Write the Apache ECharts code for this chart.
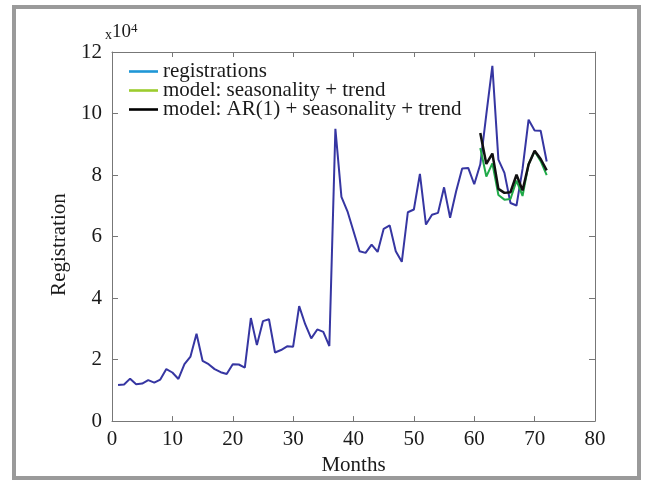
<!DOCTYPE html>
<html>
<head>
<meta charset="utf-8">
<script src="https://cdn.jsdelivr.net/npm/echarts@6/dist/echarts.min.js"></script>
<style>
  html, body { margin: 0; padding: 0; background: #fff; }
  #chart { width: 646px; height: 481px; }
</style>
</head>
<body>
<div id="chart"></div>
<script>
// Monthly registrations, months 1..72
const months = [
  1, 2, 3, 4, 5, 6, 7, 8, 9, 10, 11, 12,
  13, 14, 15, 16, 17, 18, 19, 20, 21, 22, 23, 24,
  25, 26, 27, 28, 29, 30, 31, 32, 33, 34, 35, 36,
  37, 38, 39, 40, 41, 42, 43, 44, 45, 46, 47, 48,
  49, 50, 51, 52, 53, 54, 55, 56, 57, 58, 59, 60,
  61, 62, 63, 64, 65, 66, 67, 68, 69, 70, 71, 72
];
const registrations = [
  11700, 11900, 13800, 12000, 12200, 13300, 12500, 13500, 16900, 15800, 13700, 18500,
  21000, 28400, 19600, 18500, 16900, 15900, 15300, 18500, 18400, 17400, 33500, 24700,
  32500, 33100, 22300, 23100, 24300, 24200, 37400, 31500, 26900, 29800, 29000, 24400,
  95000, 72900, 68200, 61700, 55200, 54700, 57400, 55000, 62500, 63600, 55200, 51800,
  67900, 68800, 80400, 63900, 67100, 67700, 76000, 66100, 74700, 82100, 82300, 77000,
  83500, 99700, 115500, 85000, 80700, 70900, 70100, 82000, 98000, 94500, 94400, 84400
];

// Model fits over the last year (months 61..72)
const modelMonths = [61, 62, 63, 64, 65, 66, 67, 68, 69, 70, 71, 72];
const seasonTrend = [88800, 79500, 83800, 73500, 72000, 72200, 78200, 73200, 83600, 87700, 84500, 80000];
const arSeasonTrend = [93700, 83600, 87000, 75500, 74200, 74400, 80100, 75000, 83400, 87900, 85200, 81500];

const xTicks = [0, 10, 20, 30, 40, 50, 60, 70, 80];
const yTicks = [0, 2, 4, 6, 8, 10, 12];   // in units of 10^4

const seriesNames = [
  'registrations',
  'model: seasonality + trend',
  'model: AR(1) + seasonality + trend'
];

const pairs = (xs, ys) => xs.map((x, i) => [x, ys[i]]);

const FONT = "'Liberation Serif', 'DejaVu Serif', serif";
const FONT_SIZE = 21;
const AXIS_COLOR = '#777';
const TEXT_COLOR = '#1a1a1a';

const chart = echarts.init(document.getElementById('chart'), null, { renderer: 'canvas' });

// Axes that only close the box: line and inward ticks, no labels
const boxAxis = (tickLen) => ({
  axisLine: { show: true, onZero: false, lineStyle: { color: AXIS_COLOR, width: 1 } },
  axisTick: { show: true, inside: true, length: tickLen, lineStyle: { color: AXIS_COLOR } },
  axisLabel: { show: false },
  splitLine: { show: false }
});

chart.setOption({
  backgroundColor: '#fff',
  animation: false,
  textStyle: { fontFamily: FONT },
  grid: { left: 112, right: 51, top: 52, bottom: 59, containLabel: false },
  legend: {
    orient: 'vertical',
    left: 124,
    top: 56,
    itemWidth: 29,
    itemHeight: 12,
    itemGap: -2,
    icon: 'path://M0,4.7 L29,4.7 L29,7.3 L0,7.3 Z',
    textStyle: { fontFamily: FONT, fontSize: FONT_SIZE, color: TEXT_COLOR, lineHeight: 18 },
    data: [
      { name: seriesNames[0], itemStyle: { color: '#1f97d6' } },
      { name: seriesNames[1], itemStyle: { color: '#9ccc2e' } },
      { name: seriesNames[2], itemStyle: { color: '#000' } }
    ]
  },
  xAxis: [
    {
      type: 'value',
      position: 'bottom',
      min: xTicks[0],
      max: xTicks[xTicks.length - 1],
      interval: 10,
      name: 'Months',
      nameLocation: 'middle',
      nameGap: 27,
      nameTextStyle: { fontFamily: FONT, fontSize: FONT_SIZE, color: TEXT_COLOR },
      axisLine: { show: true, onZero: false, lineStyle: { color: AXIS_COLOR, width: 1 } },
      axisTick: { show: true, inside: true, length: 5, lineStyle: { color: AXIS_COLOR } },
      axisLabel: { fontFamily: FONT, fontSize: FONT_SIZE, color: TEXT_COLOR, margin: 8 },
      splitLine: { show: false }
    },
    Object.assign({
      type: 'value',
      position: 'top',
      min: xTicks[0],
      max: xTicks[xTicks.length - 1],
      interval: 10
    }, boxAxis(5))
  ],
  yAxis: [
    {
      type: 'value',
      position: 'left',
      min: yTicks[0] * 1e4,
      max: yTicks[yTicks.length - 1] * 1e4,
      interval: 2e4,
      name: 'Registration',
      nameLocation: 'middle',
      nameGap: 38,
      nameTextStyle: { fontFamily: FONT, fontSize: FONT_SIZE, color: TEXT_COLOR, padding: [0, 16, 0, 0] },
      axisLine: { show: true, onZero: false, lineStyle: { color: AXIS_COLOR, width: 1 } },
      axisTick: { show: true, inside: true, length: 6, lineStyle: { color: AXIS_COLOR } },
      axisLabel: {
        fontFamily: FONT, fontSize: FONT_SIZE, color: TEXT_COLOR, margin: 10,
        formatter: v => String(Math.round(v / 1e4))
      },
      splitLine: { show: false }
    },
    Object.assign({
      type: 'value',
      position: 'right',
      min: yTicks[0] * 1e4,
      max: yTicks[yTicks.length - 1] * 1e4,
      interval: 2e4
    }, boxAxis(6))
  ],
  graphic: [
    {
      type: 'rect',
      silent: true,
      shape: { x: 14, y: 7, width: 625, height: 471 },
      style: { fill: 'none', stroke: '#9a9a9a', lineWidth: 4 }
    },
    {
      type: 'text',
      silent: true,
      left: 105,
      top: 22,
      style: {
        text: '{x|x}{b|10}{e|4}',
        rich: {
          x: { fontFamily: FONT, fontSize: 14, fill: TEXT_COLOR, verticalAlign: 'bottom', padding: [0, 0, 1, 0] },
          b: { fontFamily: FONT, fontSize: 19, fill: TEXT_COLOR },
          e: { fontFamily: FONT, fontSize: 13, fill: TEXT_COLOR, verticalAlign: 'top', padding: [0, 0, 8, 0] }
        }
      }
    }
  ],
  series: [
    {
      name: seriesNames[0],
      type: 'line',
      data: pairs(months, registrations),
      showSymbol: false,
      lineStyle: { color: '#3636a2', width: 2 },
      itemStyle: { color: '#3636a2' },
      z: 2
    },
    {
      name: seriesNames[1],
      type: 'line',
      data: pairs(modelMonths, seasonTrend),
      showSymbol: false,
      lineStyle: { color: '#1faa48', width: 2 },
      itemStyle: { color: '#1faa48' },
      z: 3
    },
    {
      name: seriesNames[2],
      type: 'line',
      data: pairs(modelMonths, arSeasonTrend),
      showSymbol: false,
      lineStyle: { color: '#111', width: 2.5 },
      itemStyle: { color: '#111' },
      z: 4
    }
  ]
});
</script>
</body>
</html>
